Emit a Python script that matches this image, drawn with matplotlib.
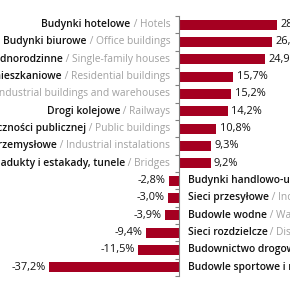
import matplotlib
matplotlib.use("Agg")
import matplotlib.pyplot as plt

pl_labels = [
    "Budynki hotelowe", "Budynki biurowe", "Budynki jednorodzinne",
    "Budynki mieszkaniowe", "Budynki przemysłowe i magazynowe", "Drogi kolejowe",
    "Budynki użyteczności publicznej", "Instalacje przemysłowe",
    "Mosty, wiadukty i estakady, tunele",
    "Budynki handlowo-usługowe", "Sieci przesyłowe", "Budowle wodne",
    "Sieci rozdzielcze", "Budownictwo drogowe", "Budowle sportowe i rekreacyjne",
]
en_labels = [
    "Hotels", "Office buildings", "Single-family houses",
    "Residential buildings", "Industrial buildings and warehouses", "Railways",
    "Public buildings", "Industrial instalations", "Bridges",
    "Commercial buildings", "Industrial networks", "Water structures",
    "Distribution networks", "Roads", "Sports and recreational buildings",
]
values = [28.4, 26.8, 24.9, 15.7, 15.2, 14.2, 10.8, 9.3, 9.2,
          -2.8, -3.0, -3.9, -9.4, -11.5, -37.2]

BAR = "#A50021"
DARK = "#111111"
GRAY = "#A0A0A0"
FS = 7.35
FONT = ["Open Sans", "DejaVu Sans"]

fig = plt.figure(figsize=(2.9, 2.9), dpi=100)
ax = fig.add_axes([0, 14 / 290, 1, 260 / 290])
ax.set_xlim(-178.5 / 3.48, 111.5 / 3.48)
n = len(values)
ax.set_ylim(n - 0.5, -0.5)
ypos = list(range(n))
ax.barh(ypos, values, height=0.57, color=BAR, zorder=2)

for s in ["top", "right", "bottom"]:
    ax.spines[s].set_visible(False)
ax.spines["left"].set_position(("data", 0))
ax.spines["left"].set_color("#808080")
ax.spines["left"].set_linewidth(0.8)
ax.set_xticks([])
ax.set_yticks([i - 0.5 for i in range(n + 1)])
ax.set_yticklabels([])
ax.tick_params(axis="y", direction="out", length=3, width=0.8, color="#808080")

for y, v, pl, en in zip(ypos, values, pl_labels, en_labels):
    val = ("%.1f%%" % v).replace(".", ",")
    if v >= 0:
        ax.annotate(val, xy=(v, y), xytext=(2.5, 0), textcoords="offset points",
                    ha="left", va="center", fontsize=7.9, color=DARK, family=FONT)
        t_en = ax.annotate(" / " + en, xy=(0, y), xytext=(-6, 0), textcoords="offset points",
                           ha="right", va="center", fontsize=FS, color=GRAY, family=FONT)
        ax.annotate(pl, xy=(0, 0.5), xycoords=t_en, ha="right", va="center",
                    fontsize=FS, color=DARK, family=FONT, fontweight=600)
    else:
        ax.annotate(val, xy=(v, y), xytext=(-2.5, 0), textcoords="offset points",
                    ha="right", va="center", fontsize=7.9, color=DARK, family=FONT)
        t_pl = ax.annotate(pl, xy=(0, y), xytext=(6.5, 0), textcoords="offset points",
                           ha="left", va="center", fontsize=FS, color=DARK, family=FONT,
                           fontweight=600)
        ax.annotate(" / " + en, xy=(1, 0.5), xycoords=t_pl, ha="left", va="center",
                    fontsize=FS, color=GRAY, family=FONT)

fig.savefig("out.png", dpi=100)
